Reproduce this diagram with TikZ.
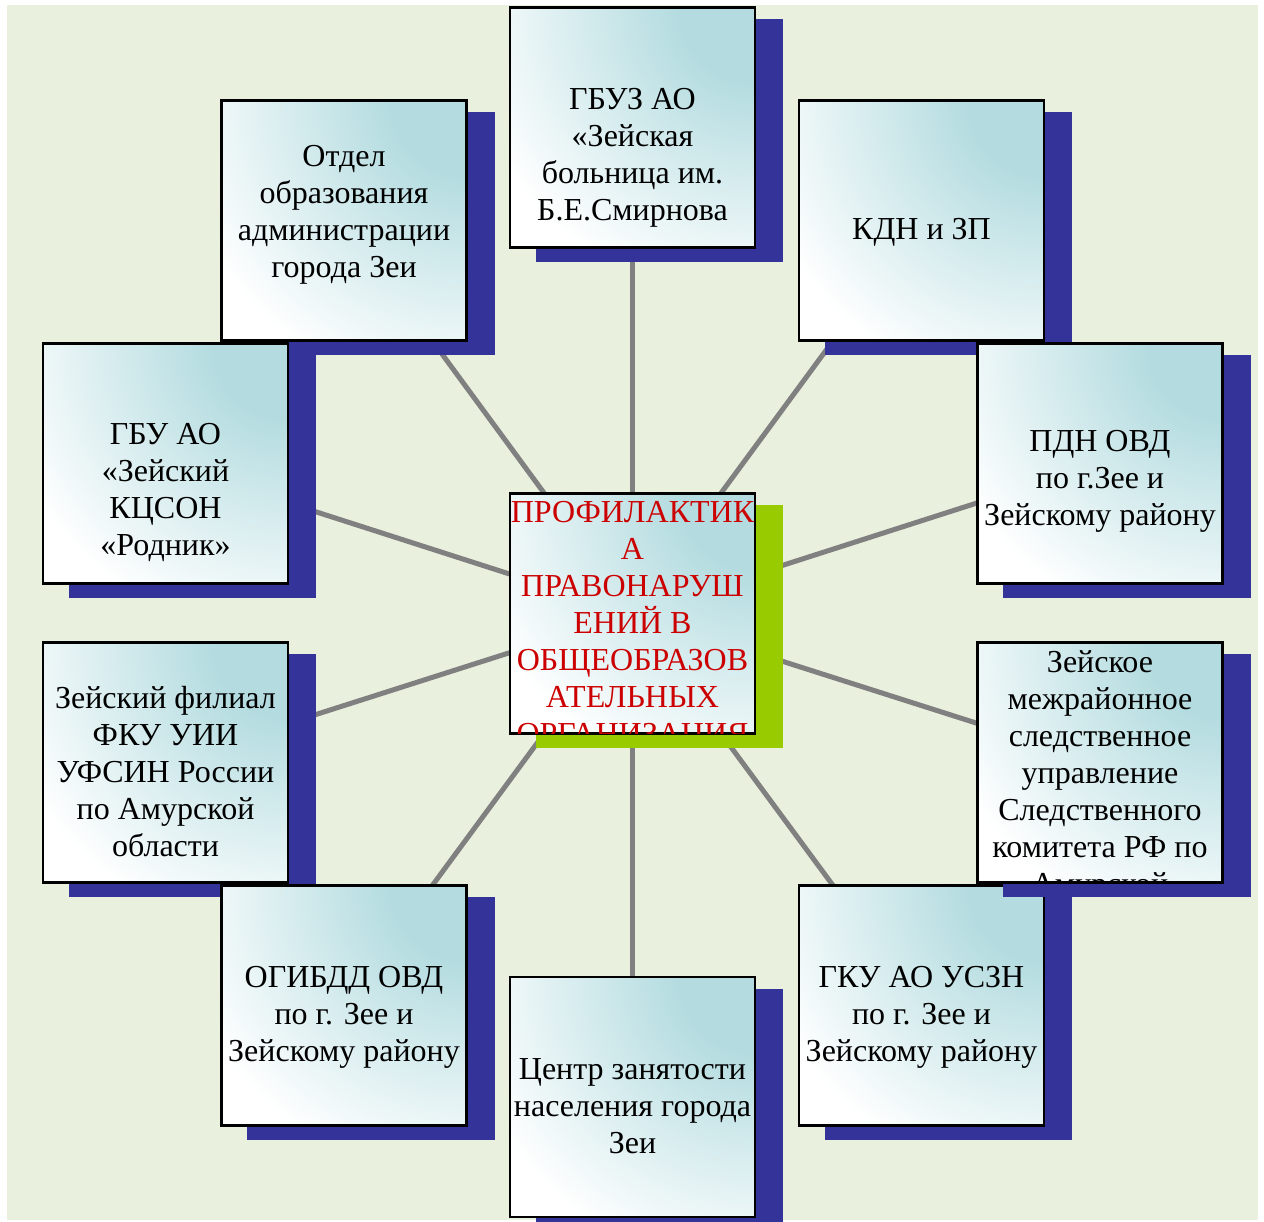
\documentclass[tikz,border=0pt]{standalone}
\usepackage{fontspec}
\setmainfont{Liberation Serif}
\usetikzlibrary{shadows}
\definecolor{bggreen}{RGB}{233,240,221}
\definecolor{boxteal}{RGB}{180,220,224}
\definecolor{shadowblue}{RGB}{51,51,153}
\definecolor{shadowgreen}{RGB}{153,204,0}
\definecolor{linegray}{RGB}{128,128,128}
\definecolor{titlered}{RGB}{204,0,0}
\pgfdeclareradialshading{cornerfade}{\pgfpointorigin}{color(0bp)=(boxteal); color(6.3bp)=(boxteal); color(24.5bp)=(white); color(50bp)=(white)}
\pgfdeclarelayer{back}
\pgfdeclarelayer{lines}
\pgfsetlayers{back,lines,main}
\begin{document}
\begin{tikzpicture}[x=1pt,y=1pt,
  card/.style={draw=black, line width=2.5pt, fill=white,
    path picture={\shade[shading=cornerfade] (path picture bounding box.north east) circle (302);},
    minimum width=245pt, minimum height=240pt, inner sep=0pt,
    general shadow={fill=shadowblue, draw=shadowblue, line width=2.5pt, shadow xshift=27pt, shadow yshift=-13pt}},
  centercard/.style={card, general shadow={fill=shadowgreen, draw=shadowgreen, line width=2.5pt, shadow xshift=27pt, shadow yshift=-13pt}},
  txt/.style={font=\fontsize{32}{37}\selectfont, align=center, inner sep=0pt, text=black},
  redtxt/.style={txt, text=titlered},
  conn/.style={draw=linegray, line width=5pt}]
\useasboundingbox (0,0) rectangle (1264,-1222);
\begin{pgfonlayer}{back}
\fill[white] (0,0) rectangle (1264,-1222);
\fill[bggreen] (7,-5) rectangle (1258,-1220);
\end{pgfonlayer}

% centre
\node[centercard] (c) at (632.5,-613.5) {};
\begin{scope}
\clip ([shift={(1.25,1.25)}]c.south west) rectangle ([shift={(-1.25,-1.25)}]c.north east);
\node[redtxt, anchor=north] (ct) at (632.5,-496) {\strut ПРОФИЛАКТИК\\А\\ПРАВОНАРУШ\\ЕНИЙ В\\ОБЩЕОБРАЗОВ\\АТЕЛЬНЫХ\\ОРГАНИЗАЦИЯ};
\end{scope}

% top
\node[card] (b1) at (632.5,-127.5) {};
\node[txt] (t1) at (632.5,-158) {\strut ГБУЗ АО\\«Зейская\\больница им.\\Б.Е.Смирнова\strut};
% upper left
\node[card] (b2) at (344,-220.5) {};
\node[txt] (t2) at (344,-215) {\strut Отдел\\образования\\администрации\\города Зеи\strut};
% upper right
\node[card] (b3) at (921.5,-220.5) {};
\node[txt] (t3) at (921.5,-232.5) {\strut КДН и ЗП\strut};
% left
\node[card] (b4) at (165.5,-463.5) {};
\node[txt] (t4) at (165.5,-493) {\strut ГБУ АО\\«Зейский\\КЦСОН\\«Родник»\strut};
% right
\node[card] (b5) at (1100,-463.5) {};
\node[txt] (t5) at (1100,-481.5) {\strut ПДН ОВД\\по г.Зее и\\Зейскому району\strut};
% lower left
\node[card] (b6) at (165.5,-762.5) {};
\node[txt] (t6) at (165.5,-775.5) {\strut Зейский филиал\\ФКУ УИИ\\УФСИН России\\по Амурской\\области\strut};
% bottom right
\node[card] (b9) at (921.5,-1005.5) {};
\node[txt] (t9) at (921.5,-1017.5) {\strut ГКУ АО УСЗН\\по г. Зее и\\Зейскому району\strut};
% lower right
\node[card] (b7) at (1100,-762.5) {};
\begin{scope}
\clip ([shift={(1.25,1.25)}]b7.south west) rectangle ([shift={(-1.25,-1.25)}]b7.north east);
\node[txt, anchor=north] (t7) at (1100,-646) {\strut Зейское\\межрайонное\\следственное\\управление\\Следственного\\комитета РФ по\\Амурской};
\end{scope}
% bottom left
\node[card] (b8) at (344,-1005.5) {};
\node[txt] (t8) at (344,-1017.5) {\strut ОГИБДД ОВД\\по г. Зее и\\Зейскому району\strut};
% bottom
\node[card] (b10) at (632.5,-1097) {};
\node[txt] (t10) at (632.5,-1109.5) {\strut Центр занятости\\населения города\\Зеи\strut};

\begin{pgfonlayer}{lines}
\draw[conn] (c.center) -- (b1.center);
\draw[conn] (c.center) -- (b2.center);
\draw[conn] (c.center) -- (b3.center);
\draw[conn] (c.center) -- (b4.center);
\draw[conn] (c.center) -- (b5.center);
\draw[conn] (c.center) -- (b6.center);
\draw[conn] (c.center) -- (b7.center);
\draw[conn] (c.center) -- (b8.center);
\draw[conn] (c.center) -- (b9.center);
\draw[conn] (c.center) -- (b10.center);
\end{pgfonlayer}
\end{tikzpicture}
\end{document}
